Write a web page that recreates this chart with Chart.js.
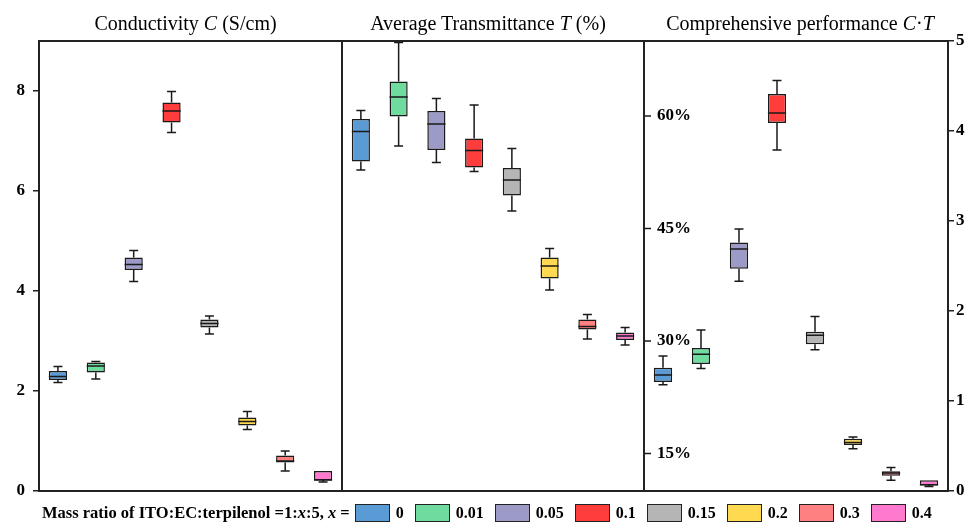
<!DOCTYPE html>
<html>
<head>
<meta charset="utf-8">
<script src="https://cdn.jsdelivr.net/npm/chart.js@4.4.1/dist/chart.umd.min.js"></script>
<style>
body { margin: 0; background: #fff; }
#wrap { position: relative; width: 974px; height: 523px; font-family: "Liberation Serif", "DejaVu Serif", serif; color: #000; }
canvas { position: absolute; left: 0; top: 0; }
.title { position: absolute; top: 12px; font-size: 20px; text-align: center; white-space: nowrap; }
#legend { position: absolute; left: 42px; top: 503px; display: flex; align-items: center; font-weight: bold; font-size: 16px; white-space: nowrap; }
#legend .sw { width: 33px; height: 16px; border: 1px solid #222; margin-right: 6px; }
#legend .lb { margin-right: 11px; }
#legend .pre { margin-right: 5px; font-size: 16.5px; }
</style>
</head>
<body>
<div id="wrap">
  <canvas id="c1" width="974" height="523"></canvas>
  <canvas id="c2" width="974" height="523"></canvas>
  <canvas id="c3" width="974" height="523"></canvas>
  <div class="title" style="left:34px;width:303px">Conductivity <i>C</i> (S/cm)</div>
  <div class="title" style="left:337px;width:302px">Average Transmittance <i>T</i> (%)</div>
  <div class="title" style="left:648px;width:304px">Comprehensive performance <i>C</i>·<i>T</i></div>
  <div id="legend"><span class="pre">Mass ratio of ITO:EC:terpilenol =1:<i>x</i>:5, <i>x</i> =</span></div>
</div>
<script>
// categories: x in 1:x:5
const categories = ['0', '0.01', '0.05', '0.1', '0.15', '0.2', '0.3', '0.4'];
const colors = ['#5b9bd5', '#6fdb9e', '#9c9ac6', '#ff3d3d', '#b5b5b5', '#ffd950', '#ff8080', '#ff79cf'];

// conductivity C (S/cm)
const condMin = [2.17, 2.24, 4.19, 7.17, 3.14, 1.23, 0.40, 0.18];
const condQ1  = [2.22, 2.37, 4.42, 7.37, 3.27, 1.31, 0.57, 0.21];
const condMed = [2.29, 2.50, 4.53, 7.60, 3.35, 1.39, 0.60, 0.22];
const condQ3  = [2.40, 2.57, 4.67, 7.77, 3.43, 1.47, 0.71, 0.40];
const condMax = [2.49, 2.59, 4.81, 7.99, 3.50, 1.59, 0.80, 0.40];

// average transmittance T (axis unlabeled in the figure, relative units)
const transMin = [6.42, 6.90, 6.57, 6.39, 5.60, 4.02, 3.04, 2.92];
const transQ1  = [6.59, 7.49, 6.82, 6.47, 5.91, 4.25, 3.23, 3.02];
const transMed = [7.19, 7.88, 7.34, 6.81, 6.22, 4.50, 3.29, 3.10];
const transQ3  = [7.44, 8.19, 7.60, 7.05, 6.46, 4.67, 3.43, 3.17];
const transMax = [7.61, 8.97, 7.85, 7.72, 6.85, 4.85, 3.53, 3.27];

// comprehensive performance C·T
const ctMin = [1.18, 1.36, 2.33, 3.79, 1.57, 0.47, 0.12, 0.05];
const ctQ1  = [1.21, 1.41, 2.47, 4.09, 1.63, 0.51, 0.17, 0.06];
const ctMed = [1.29, 1.52, 2.69, 4.20, 1.73, 0.54, 0.20, 0.07];
const ctQ3  = [1.37, 1.59, 2.76, 4.41, 1.77, 0.58, 0.22, 0.12];
const ctMax = [1.50, 1.79, 2.91, 4.56, 1.94, 0.60, 0.26, 0.12];

// tick labels
const leftPctTicks = [15, 30, 45, 60];

const tickFont = { family: '"Liberation Serif", serif', size: 17, weight: 'bold' };

// draws whiskers, medians, frame and inner ticks on top of the floating bars
const boxPlugin = {
  id: 'boxes',
  afterDatasetsDraw(chart, args, opts) {
    const { ctx, chartArea: a } = chart;
    const ys = chart.scales[opts.axis];
    const meta = chart.getDatasetMeta(0);
    ctx.save();
    ctx.strokeStyle = '#1a1a1a';
    ctx.lineWidth = 1.5;
    meta.data.forEach((bar, i) => {
      const x = bar.x, hw = bar.width / 2, cap = 4.5;
      const pMin = ys.getPixelForValue(opts.min[i]);
      const pMax = ys.getPixelForValue(opts.max[i]);
      const pQ1 = ys.getPixelForValue(opts.q1[i]);
      const pQ3 = ys.getPixelForValue(opts.q3[i]);
      const pMed = ys.getPixelForValue(opts.med[i]);
      ctx.beginPath();
      if (pMax < pQ3 - 0.5) {
        ctx.moveTo(x, pQ3); ctx.lineTo(x, pMax);
        ctx.moveTo(x - cap, pMax); ctx.lineTo(x + cap, pMax);
      }
      if (pMin > pQ1 + 0.5) {
        ctx.moveTo(x, pQ1); ctx.lineTo(x, pMin);
        ctx.moveTo(x - cap, pMin); ctx.lineTo(x + cap, pMin);
      }
      ctx.moveTo(x - hw, pMed); ctx.lineTo(x + hw, pMed);
      ctx.stroke();
    });
    if (opts.innerAxis) {
      const s = chart.scales[opts.innerAxis];
      ctx.beginPath();
      s.ticks.forEach(t => {
        const y = s.getPixelForValue(t.value);
        ctx.moveTo(a.left, y); ctx.lineTo(a.left + 7, y);
      });
      ctx.stroke();
    }
    ctx.lineWidth = 2;
    ctx.strokeStyle = '#222';
    ctx.strokeRect(a.left, a.top, a.right - a.left, a.bottom - a.top);
    ctx.restore();
  }
};

function boxDataset(q1, q3, axis) {
  return {
    data: categories.map((c, i) => [q1[i], q3[i]]),
    backgroundColor: colors,
    borderColor: '#1a1a1a',
    borderWidth: 1.5,
    borderSkipped: false,
    categoryPercentage: 1,
    barPercentage: 0.48,
    yAxisID: axis
  };
}

function baseOptions(padding, axis, stats, scales, innerAxis) {
  return {
    responsive: false,
    animation: false,
    layout: { padding },
    plugins: {
      legend: { display: false },
      tooltip: { enabled: false },
      boxes: { axis, innerAxis, min: stats[0], q1: stats[1], med: stats[2], q3: stats[3], max: stats[4] }
    },
    scales: Object.assign({ x: { type: 'category', display: false, offset: true } }, scales)
  };
}

// panel 1: conductivity
new Chart(document.getElementById('c1'), {
  type: 'bar',
  data: { labels: categories, datasets: [boxDataset(condQ1, condQ3, 'y')] },
  options: baseOptions({ left: 0, right: 632, top: 41, bottom: 32 }, 'y',
    [condMin, condQ1, condMed, condQ3, condMax], {
      y: {
        min: 0, max: 9,
        afterFit(s) { s.width = 39; },
        ticks: { stepSize: 2, includeBounds: false, color: '#000', font: tickFont, padding: 8 },
        grid: { drawOnChartArea: false, tickLength: 6, color: '#222', lineWidth: 1.5 },
        border: { color: '#222', width: 2 }
      }
    }),
  plugins: [boxPlugin]
});

// panel 2: transmittance
new Chart(document.getElementById('c2'), {
  type: 'bar',
  data: { labels: categories, datasets: [boxDataset(transQ1, transQ3, 'y')] },
  options: baseOptions({ left: 342, right: 330, top: 41, bottom: 32 }, 'y',
    [transMin, transQ1, transMed, transQ3, transMax], {
      y: { min: 0, max: 9, display: false }
    }),
  plugins: [boxPlugin]
});

// panel 3: comprehensive performance
new Chart(document.getElementById('c3'), {
  type: 'bar',
  data: { labels: categories, datasets: [boxDataset(ctQ1, ctQ3, 'yr')] },
  options: baseOptions({ left: 644, right: 0, top: 41, bottom: 32 }, 'yr',
    [ctMin, ctQ1, ctMed, ctQ3, ctMax], {
      yl: {
        position: 'left', min: 10, max: 70,
        afterFit(s) { s.width = 0; },
        afterBuildTicks(s) { s.ticks = leftPctTicks.map(v => ({ value: v })); },
        ticks: { mirror: true, padding: 13, color: '#000', font: tickFont, callback: v => v + '%' },
        grid: { display: false },
        border: { display: false }
      },
      yr: {
        position: 'right', min: 0, max: 5,
        afterFit(s) { s.width = 26; },
        ticks: { stepSize: 1, color: '#000', font: tickFont, padding: 2 },
        grid: { drawOnChartArea: false, tickLength: 6, color: '#222', lineWidth: 1.5 },
        border: { color: '#222', width: 2 }
      }
    }, 'yl'),
  plugins: [boxPlugin]
});

// legend
const legend = document.getElementById('legend');
categories.forEach((c, i) => {
  const sw = document.createElement('span');
  sw.className = 'sw';
  sw.style.background = colors[i];
  const lb = document.createElement('span');
  lb.className = 'lb';
  lb.textContent = c;
  legend.appendChild(sw);
  legend.appendChild(lb);
});
</script>
</body>
</html>
